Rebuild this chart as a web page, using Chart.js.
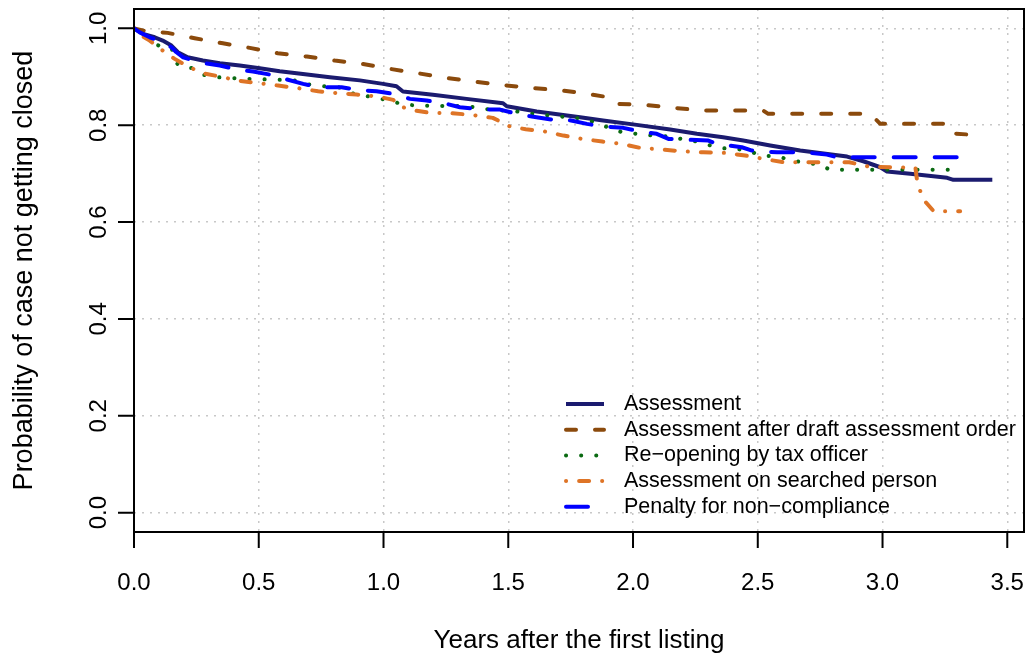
<!DOCTYPE html>
<html>
<head>
<meta charset="utf-8">
<script src="https://cdn.jsdelivr.net/npm/chart.js@4"></script>
<style>
  body { margin: 0; background: #fff; }
  #survChart { display: block; }
</style>
</head>
<body>
<canvas id="survChart" width="1028" height="660"></canvas>
<script>
// survival curves: [years, probability]
const assessment = [
  [0, 1.0], [0.036, 0.9886], [0.083, 0.9816], [0.115, 0.9748], [0.150, 0.9645], [0.176, 0.9507],
  [0.215, 0.9403], [0.276, 0.9336], [0.344, 0.9279], [0.424, 0.9232], [0.504, 0.9176], [0.584, 0.9114],
  [0.677, 0.906], [0.785, 0.899], [0.905, 0.8926], [0.998, 0.8854], [1.052, 0.8804], [1.078, 0.8695],
  [1.198, 0.8627], [1.333, 0.8544], [1.479, 0.8453], [1.494, 0.8391], [1.614, 0.8282], [1.788, 0.8164],
  [1.880, 0.8096], [2.015, 0.8007], [2.149, 0.791], [2.256, 0.7822], [2.361, 0.7751], [2.442, 0.7683],
  [2.55, 0.758], [2.67, 0.7477], [2.858, 0.7353], [2.923, 0.7256], [2.991, 0.7132], [3.018, 0.7043],
  [3.111, 0.6996], [3.259, 0.6913], [3.284, 0.6872], [3.44, 0.6872]
];
const afterDraft = [
  [0, 1.0], [0.035, 0.9955], [0.135, 0.9907], [0.243, 0.9796], [0.356, 0.9692], [0.464, 0.9597],
  [0.576, 0.9486], [0.693, 0.9418], [0.805, 0.9335], [0.917, 0.9267], [1.026, 0.9164], [1.138, 0.9073],
  [1.254, 0.8974], [1.363, 0.8902], [1.479, 0.8829], [1.599, 0.8767], [1.719, 0.8716], [1.836, 0.8633],
  [1.908, 0.8571], [1.94, 0.8441], [2.049, 0.842], [2.161, 0.8359], [2.289, 0.8303], [2.522, 0.8303],
  [2.542, 0.8235], [2.951, 0.8235], [2.991, 0.8028], [3.256, 0.8028], [3.272, 0.7962], [3.28, 0.783],
  [3.344, 0.7808]
];
const reopening = [
  [0, 1.0], [0.043, 0.9886], [0.076, 0.9692], [0.123, 0.9597], [0.151, 0.9583], [0.175, 0.9253],
  [0.183, 0.9218], [0.237, 0.9176], [0.28, 0.904], [0.337, 0.899], [0.46, 0.8957], [0.588, 0.8937],
  [0.653, 0.8922], [0.701, 0.884], [0.757, 0.8805], [0.821, 0.8784], [0.865, 0.8668], [1.026, 0.8509],
  [1.078, 0.8427], [1.142, 0.8406], [1.335, 0.8392], [1.455, 0.8303], [1.519, 0.8303], [1.571, 0.8247],
  [1.808, 0.8131], [1.86, 0.8028], [1.956, 0.7855], [2.076, 0.7787], [2.137, 0.7772], [2.193, 0.7718],
  [2.249, 0.7669], [2.301, 0.7595], [2.357, 0.7524], [2.417, 0.7512], [2.47, 0.7456], [2.519, 0.7367],
  [2.582, 0.7359], [2.633, 0.727], [2.746, 0.7187], [2.791, 0.7078], [3.32, 0.7078]
];
const searched = [
  [0, 1.0], [0.023, 0.9872], [0.063, 0.9748], [0.103, 0.9589], [0.143, 0.9438], [0.163, 0.937],
  [0.21, 0.9232], [0.27, 0.9081], [0.344, 0.9005], [0.417, 0.8922], [0.501, 0.8866], [0.578, 0.8819],
  [0.661, 0.8763], [0.738, 0.8701], [0.818, 0.866], [0.892, 0.8633], [0.979, 0.8592], [1.039, 0.8524],
  [1.059, 0.8406], [1.11, 0.8317], [1.186, 0.8255], [1.273, 0.8247], [1.353, 0.8214], [1.438, 0.8152],
  [1.487, 0.8028], [1.507, 0.7972], [1.57, 0.7917], [1.647, 0.7869], [1.721, 0.7786], [1.795, 0.7718],
  [1.877, 0.7663], [1.955, 0.7615], [2.028, 0.7533], [2.116, 0.7498], [2.196, 0.7462], [2.282, 0.7442],
  [2.369, 0.7429], [2.45, 0.7374], [2.523, 0.7305], [2.603, 0.7235], [2.867, 0.7235], [2.944, 0.7146],
  [3.132, 0.7119], [3.14, 0.6789], [3.165, 0.6459], [3.205, 0.6223], [3.311, 0.6223]
];
const penalty = [
  [0, 1.0], [0.023, 0.9917], [0.063, 0.9816], [0.115, 0.9713], [0.15, 0.961], [0.17, 0.9507],
  [0.197, 0.9403], [0.237, 0.9336], [0.284, 0.9279], [0.344, 0.9232], [0.417, 0.9149], [0.477, 0.9108],
  [0.551, 0.904], [0.605, 0.8957], [0.678, 0.8854], [0.738, 0.8784], [0.832, 0.8784], [0.893, 0.873],
  [0.972, 0.8701], [1.039, 0.8647], [1.106, 0.8544], [1.173, 0.8509], [1.253, 0.8441], [1.306, 0.8371],
  [1.393, 0.8323], [1.467, 0.8323], [1.534, 0.8235], [1.594, 0.8179], [1.681, 0.8111], [1.74, 0.8111],
  [1.815, 0.8028], [1.881, 0.7972], [1.961, 0.7946], [2.022, 0.7875], [2.095, 0.7822], [2.142, 0.7718],
  [2.302, 0.7683], [2.343, 0.7601], [2.383, 0.758], [2.436, 0.7545], [2.477, 0.7477], [2.521, 0.7456],
  [2.577, 0.7442], [2.682, 0.7442], [2.777, 0.7394], [2.817, 0.7339], [3.312, 0.7339]
];

const seriesNames = [
  'Assessment',
  'Assessment after draft assessment order',
  'Re\u2212opening by tax officer',
  'Assessment on searched person',
  'Penalty for non\u2212compliance'
];
const xTicks = [0, 0.5, 1, 1.5, 2, 2.5, 3, 3.5];
const yTicks = [0, 0.2, 0.4, 0.6, 0.8, 1.0];
const xTitle = 'Years after the first listing';
const yTitle = 'Probability of case not getting closed';

const FONT = '"Liberation Sans", Arial, Helvetica, sans-serif';

const toPts = arr => arr.map(p => ({ x: p[0], y: p[1] }));

const line = (data, i, color, dash) => ({
  label: seriesNames[i],
  data: toPts(data),
  showLine: true,
  borderColor: color,
  backgroundColor: color,
  borderWidth: 4,
  borderDash: dash,
  borderCapStyle: dash.length ? 'round' : 'butt',
  borderJoinStyle: 'round',
  pointRadius: 0,
  tension: 0
});

const datasets = [
  line(assessment, 0, '#1b1b6f', []),
  line(afterDraft, 1, '#8b4a0c', [10, 19]),
  line(reopening, 2, '#0a6a12', [0.1, 15]),
  line(searched, 3, '#de7426', [0.1, 13, 10, 13]),
  line(penalty, 4, '#0000ff', [22, 19])
];
datasets.reverse();

// R-style axes, labels and legend drawn around the plot box
const rPlot = {
  id: 'rPlot',
  afterDraw(chart) {
    const ctx = chart.ctx;
    const a = chart.chartArea;
    const xs = chart.scales.x, ys = chart.scales.y;
    ctx.save();
    ctx.strokeStyle = '#000';
    ctx.fillStyle = '#000';
    ctx.lineWidth = 2;
    ctx.setLineDash([]);
    ctx.strokeRect(a.left, a.top, a.right - a.left, a.bottom - a.top);

    // x axis
    ctx.beginPath();
    xTicks.forEach(v => {
      const px = xs.getPixelForValue(v);
      ctx.moveTo(px, a.bottom);
      ctx.lineTo(px, a.bottom + 16);
    });
    ctx.stroke();
    ctx.font = '24px ' + FONT;
    ctx.textAlign = 'center';
    ctx.textBaseline = 'middle';
    xTicks.forEach(v => ctx.fillText(v.toFixed(1), xs.getPixelForValue(v), 583));
    ctx.font = '26px ' + FONT;
    ctx.fillText(xTitle, (a.left + a.right) / 2, 641);

    // y axis
    ctx.beginPath();
    yTicks.forEach(v => {
      const py = ys.getPixelForValue(v);
      ctx.moveTo(a.left, py);
      ctx.lineTo(a.left - 16, py);
    });
    ctx.stroke();
    ctx.font = '24px ' + FONT;
    yTicks.forEach(v => {
      ctx.save();
      ctx.translate(99, ys.getPixelForValue(v));
      ctx.rotate(-Math.PI / 2);
      ctx.fillText(v.toFixed(1), 0, 0);
      ctx.restore();
    });
    ctx.save();
    ctx.font = '27px ' + FONT;
    ctx.translate(25, (ys.getPixelForValue(0) + ys.getPixelForValue(1)) / 2);
    ctx.rotate(-Math.PI / 2);
    ctx.fillText(yTitle, 0, 0);
    ctx.restore();

    // legend, in series order
    ctx.font = '21.5px ' + FONT;
    ctx.textAlign = 'left';
    seriesNames.forEach((name, i) => {
      const ds = chart.data.datasets.find(d => d.label === name);
      const y = 404 + i * 25.7;
      ctx.save();
      ctx.strokeStyle = ds.borderColor;
      ctx.lineWidth = ds.borderWidth;
      ctx.lineCap = ds.borderCapStyle;
      ctx.setLineDash(ds.borderDash);
      ctx.beginPath();
      ctx.moveTo(566, y);
      ctx.lineTo(604, y);
      ctx.stroke();
      ctx.restore();
      ctx.fillText(name, 624, y);
    });
    ctx.restore();
  }
};

new Chart(document.getElementById('survChart'), {
  type: 'scatter',
  data: { datasets },
  options: {
    responsive: false,
    animation: false,
    devicePixelRatio: 1,
    layout: { padding: { left: 134, top: 9, right: 4, bottom: 128 } },
    plugins: { legend: { display: false }, tooltip: { enabled: false } },
    scales: {
      x: {
        type: 'linear', min: 0, max: 3.567,
        afterBuildTicks: s => { s.ticks = xTicks.map(v => ({ value: v })); },
        ticks: { display: false },
        border: { display: false, dash: [2, 6] },
        grid: { color: '#c8c8c8', lineWidth: 1.5, drawTicks: false }
      },
      y: {
        type: 'linear', min: -0.04, max: 1.04,
        afterBuildTicks: s => { s.ticks = yTicks.map(v => ({ value: v })); },
        ticks: { display: false },
        border: { display: false, dash: [2, 6] },
        grid: { color: '#c8c8c8', lineWidth: 1.5, drawTicks: false }
      }
    }
  },
  plugins: [rPlot]
});
</script>
</body>
</html>
